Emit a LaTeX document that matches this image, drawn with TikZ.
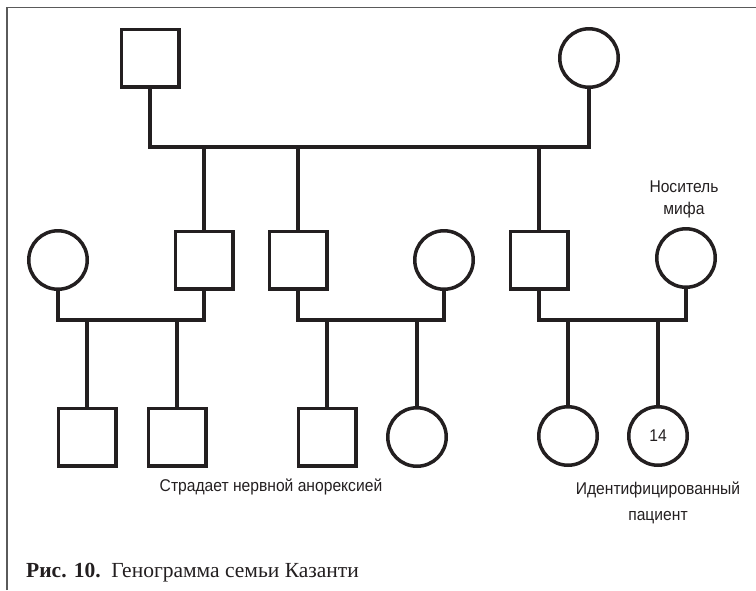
\documentclass[tikz,border=0pt]{standalone}
\usepackage{fontspec}
\setmainfont{Liberation Serif}
\newfontfamily\labelfont[FakeStretch=0.92]{Liberation Sans}
\definecolor{ink}{HTML}{231F20}
\definecolor{rule}{HTML}{5A5A5A}
\begin{document}
\begin{tikzpicture}[x=1pt,y=-1pt,
  male/.style={draw=ink,line width=3.5pt,rectangle,minimum size=57.5pt,inner sep=0pt},
  female/.style={draw=ink,line width=3.5pt,circle,minimum size=58.5pt,inner sep=0pt,font=\labelfont\fontsize{17}{20}\selectfont,text=ink},
  link/.style={draw=ink,line width=3.2pt,line join=miter,line cap=rect},
  note/.style={font=\labelfont\fontsize{17}{22}\selectfont,text=ink,align=center,inner sep=0pt}]
\useasboundingbox (0,0) rectangle (756,590);
% open frame: top and left rules
\draw[rule,line width=1.6pt] (7,590) -- (7,7.5) -- (756,7.5);

% generation I
\node[male]   (gf) at (150,58) {};
\node[female] (gm) at (589,58) {};
% generation II
\node[female] (w1) at (58,260) {};
\node[male]   (s1) at (204,260) {};
\node[male]   (s2) at (298,260) {};
\node[female] (w2) at (444,260) {};
\node[male]   (s3) at (539,260) {};
\node[female] (w3) at (686,258) {};
% generation III
\node[male]   (c11) at (87,437) {};
\node[male]   (c12) at (177,437) {};
\node[male]   (c21) at (327,437) {};
\node[female] (c22) at (417,437) {};
\node[female] (c31) at (568,436) {};
\node[female] (c32) at (658,436) {14};

% marriage and sibling bars
\coordinate (bar1) at (0,147);
\coordinate (bar2) at (0,320);
\draw[link] (gf.south) -- (gf.south |- bar1) -- (gm.south |- bar1) -- (gm.south);
\foreach \k in {s1,s2,s3} \draw[link] (\k.north) -- (\k.north |- bar1);

\draw[link] (w1.south) -- (w1.south |- bar2) -- (s1.south |- bar2) -- (s1.south);
\foreach \k in {c11,c12} \draw[link] (\k.north) -- (\k.north |- bar2);

\draw[link] (s2.south) -- (s2.south |- bar2) -- (w2.south |- bar2) -- (w2.south);
\foreach \k in {c21,c22} \draw[link] (\k.north) -- (\k.north |- bar2);

\draw[link] (s3.south) -- (s3.south |- bar2) -- (w3.south |- bar2) -- (w3.south);
\foreach \k in {c31,c32} \draw[link] (\k.north) -- (\k.north |- bar2);

% labels
\node[note] (myth) at (684,199) {Носитель\\мифа};
\node[note] (anor) at (271,487) {Страдает нервной анорексией};
\node[note,font=\labelfont\fontsize{17}{26}\selectfont] (ip) at (658,503) {Идентифицированный\\пациент};

% caption
\node[anchor=base west,inner sep=0pt,text=ink,font=\fontsize{21.5}{24}\selectfont] (cap) at (26,577)
  {\textbf{Рис. 10.}\ \ Генограмма семьи Казанти};
\end{tikzpicture}
\end{document}
